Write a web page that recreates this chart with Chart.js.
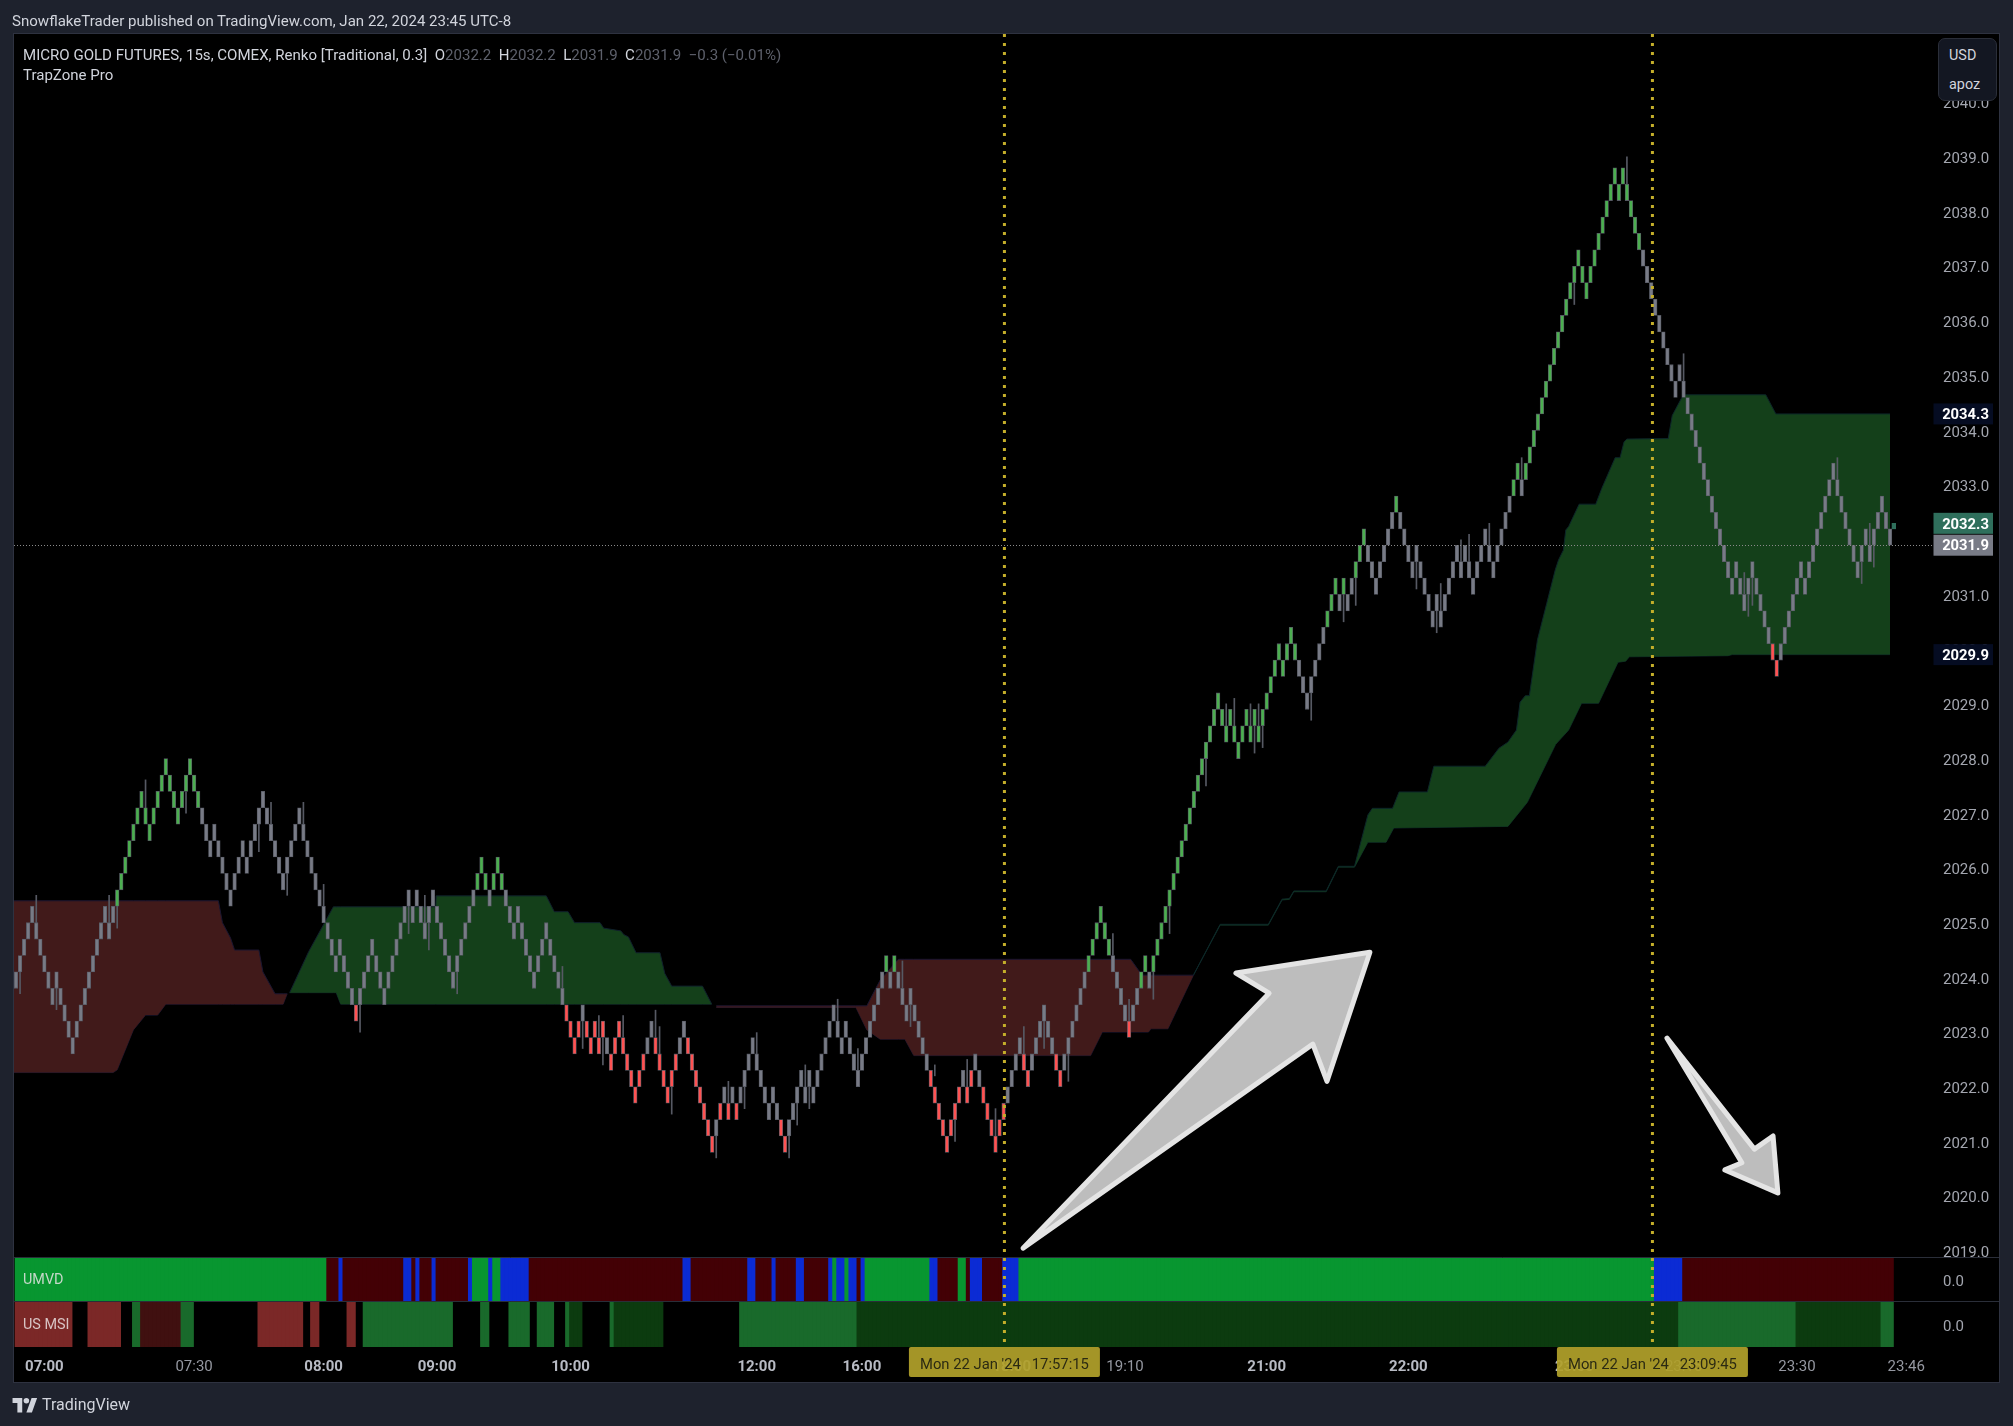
<!DOCTYPE html>
<html><head><meta charset="utf-8">
<style>
html,body{margin:0;padding:0;background:#1e222d;width:2013px;height:1426px;overflow:hidden;font-family:Roboto,sans-serif}
canvas{position:absolute;left:0;top:0}
.t{position:absolute;white-space:nowrap;line-height:18px;font-size:15.05px;color:#d1d4dc}
.dim{color:#5d606b}
#badge{position:absolute;left:1938px;top:38px;width:57px;height:61px;background:#131722;border:1px solid #2a2e39;border-radius:7px}
</style></head><body>
<canvas id="c" width="2013" height="1426"></canvas>
<div class="t" style="left:12px;top:11.5px">SnowflakeTrader published on TradingView.com, Jan 22, 2024 23:45 UTC-8</div>
<div class="t" style="left:23px;top:46px">MICRO GOLD FUTURES, 15s, COMEX, Renko [Traditional, 0.3]&nbsp;&nbsp;O<span class="dim">2032.2</span>&nbsp;&nbsp;H<span class="dim">2032.2</span>&nbsp;&nbsp;L<span class="dim">2031.9</span>&nbsp;&nbsp;C<span class="dim">2031.9</span>&nbsp;&nbsp;<span class="dim">−0.3 (−0.01%)</span></div>
<div class="t" style="left:23px;top:66px">TrapZone Pro</div>
<div id="badge"></div>
<div class="t" style="left:1949px;top:46.5px;font-size:14.4px">USD</div>
<div class="t" style="left:1949px;top:76px;font-size:14.4px">apoz</div>
<div class="t" style="left:23px;top:1271px;color:#c4d8c8;font-size:14.4px">UMVD</div>
<div class="t" style="left:23px;top:1316px;color:#d8c4c4;font-size:14.4px">US MSI</div>
<svg style="position:absolute;left:12px;top:1396px" width="26" height="18" viewBox="0 0 36 26"><path fill="#d1d4dc" d="M14 24H7V10H0V3h14v21zM28 24h-8l7.5-21h8L28 24z"/><circle fill="#d1d4dc" cx="20" cy="7" r="4"/></svg>
<div class="t" style="left:42px;top:1396px;font-size:16px">TradingView</div>
<script src="https://cdn.jsdelivr.net/npm/chart.js@4"></script>
<script>
// Renko: brick size and the level of the last close
const BRICK_SIZE = 0.3;
const BASE_PRICE = 2031.9;
// Top edge of each brick, counted in bricks below BASE_PRICE
const brickTopLevel = [
26,25,24,23,22,23,24,25,26,27, 26,27,28,29,30,29,28,27,26,25,
24,23,22,23,22,21,20,19,18,17, 16,15,16,17,16,15,14,13,14,15,
16,15,14,13,14,15,16,17,18,17, 18,19,20,21,20,19,18,19,18,17,
16,15,16,17,18,19,20,19,18,17, 16,17,18,19,20,21,22,23,24,25,
24,25,26,27,28,27,26,25,24,25, 26,27,26,25,24,23,22,21,22,21,
22,23,22,21,22,23,24,25,26,25, 24,23,22,21,20,19,20,21,20,19,
20,21,22,23,22,23,24,25,26,25, 24,23,24,25,26,27,28,29,30,29,
28,29,30,29,30,29,30,31,30,29, 30,31,32,33,32,31,30,29,30,31,
32,33,32,31,30,29,30,31,32,
33,34,35,36,35,34,33,34,33,34, 33,32,31,30,31,32,33,34,33,34,
35,36,35,34,33,32,33,32,33,32, 31,30,29,28,29,30,29,30,31,32,
31,30,29,28,27,26,25,26,25,26, 27,28,27,28,29,30,31,32,33,34,
35,36,35,34,33,32,33,32,31,32, 33,34,35,36,35,34,33,32,31,30,
31,32,31,30,29,28,29,30,31,32, 31,30,29,28,27,26,25,24,23,22,
23,24,25,26,27,28,29,28,27,26, 25,26,25,24,23,22,21,20,19,18,
17,16,15,14,
13,12,11,10,9,10,11,10,11,12, 11,10,11,10,11,10,9,8,7,6,
7,6,5,6,7,8,9,8,7,6, 5,4,3,2,3,2,3,2,1,0,
-1,0,1,2,1,0,-1,-2,-3,-2, -1,0,1,0,1,2,3,
4,3,4,3,2,1,0,1,0,1, 2,1,0,-1,0,1,0,-1,-2,-3,
-4,-5,-4,-5,-6,-7,-8,-9,-10,-11,
-12,-13,-14,-15,-16,-17,-18,-17,-16,-17, -18,-19,-20,-21,-22,-23,-22,-23,-22,-21,
-20,-19,-18,-17,-16,-15,-14,-13,-12,
-11,-10,-11,-10,-9,-8,-7,-6,-5,-4, -3,-2,-1,0,1,2,1,2,3,2,
1,2,3,4,5,6,7,6,5,4, 3,2,1,2,1,0,-1,-2,-3,-4,
-5,-4,-3,-2,-1,0,1,0,-1,0, -1,-2,-3,-2,-1];
const greenBrickRanges = [[25,45],[114,116],[118,120],[215,215],[217,217],[265,270],[278,279],[281,316],[324,326],[328,328],[331,333],[341,341],[370,371],[373,401]];
const redBrickRanges = [[84,84],[136,139],[141,145],[147,155],[158,163],[166,172],[174,174],[176,176],[178,178],[189,190],[226,233],[235,236],[239,244],[249,250],[257,258],[275,275],[434,435]];
// Wicks: bar, low, high
const wickBar  = [1,5,10,23,25,32,42,60,63,67,71,76,85,97,101,102,109,135,140,144,145,150,158,159,162,173,176,180,183,191,193,195,196,203,208,219,221,227,232,235,242,249,254,260,271,275,281,285,294,299,301,305,306,307,308,320,328,331,346,351,352,357,359,364,372,385,398,412,427,428,429,450,456,458,459];
const wickLow  = [2023.7,2025.0,2023.41,2025.0,2024.9,2027.09,2027.0,2026.3,2026.8,2025.5,2026.8,2025.3,2023.0,2024.8,2025.0,2024.5,2023.7,2023.8,2022.7,2022.9,2022.4,2022.9,2022.9,2022.6,2021.5,2020.7,2021.7,2021.6,2022.6,2020.7,2021.3,2022.0,2021.6,2023.2,2022.3,2023.8,2023.1,2022.2,2021.0,2022.0,2021.1,2022.6,2022.7,2022.1,2024.4,2023.2,2023.6,2024.8,2027.5,2028.6,2028.6,2028.6,2028.1,2028.6,2028.2,2028.7,2030.5,2030.8,2031.1,2030.3,2030.7,2031.6,2031.6,2031.9,2033.1,2036.3,2038.5,2034.9,2031.0,2030.6,2030.8,2033.1,2031.2,2031.9,2031.5];
const wickHigh = [2024.1,2025.5,2023.8,2025.5,2025.3,2027.61,2027.39,2026.8,2027.2,2025.9,2027.2,2025.7,2023.5,2025.3,2025.5,2025.0,2024.1,2024.2,2023.2,2023.3,2022.9,2023.3,2023.4,2023.1,2022.0,2021.1,2022.1,2022.0,2022.99,2021.1,2021.7,2022.4,2022.0,2023.6,2022.7,2024.3,2023.5,2022.4,2021.4,2022.5,2021.6,2023.1,2023.2,2022.6,2024.8,2023.6,2024.1,2025.3,2028.0,2029.0,2029.1,2029.0,2028.6,2029.0,2028.6,2029.2,2031.0,2031.3,2031.6,2030.7,2031.2,2032.0,2032.1,2032.3,2033.5,2036.7,2039.0,2035.4,2031.4,2031.0,2031.3,2033.5,2031.6,2032.3,2031.9];
const lastMarkerBar = 464, lastMarkerLow = 2032.2, lastMarkerHigh = 2032.3;

// TrapZone clouds
const redAX = [-0.5,24,25,29,32,35,37,50,51,53,54,60,61,64,66,67];
const redAUpper = [2025.4,2025.4,2025.4,2025.4,2025.4,2025.4,2025.4,2025.4,2025.0,2024.72,2024.5,2024.5,2024.1,2023.7,2023.7,2023.7];
const redALower = [2022.26,2022.26,2022.31,2023.04,2023.31,2023.31,2023.51,2023.51,2023.51,2023.51,2023.51,2023.51,2023.51,2023.51,2023.51,2023.7];
const greenBX = [67.6,72.3,78.4,79.1,80.2,103.7,103.8,131,133,136.4,138,144.3,145.2,149.4,150.2,151.3,153.2,159.1,160.3,162,169.6,171.9];
const greenBUpper = [2023.72,2024.47,2025.29,2025.29,2025.29,2025.29,2025.49,2025.49,2025.2,2025.2,2025.0,2025.0,2024.9,2024.85,2024.78,2024.74,2024.45,2024.45,2024.07,2023.84,2023.84,2023.51];
const greenBLower = [2023.72,2023.72,2023.72,2023.72,2023.51,2023.51,2023.51,2023.51,2023.51,2023.51,2023.51,2023.51,2023.51,2023.51,2023.51,2023.51,2023.51,2023.51,2023.51,2023.51,2023.51,2023.51];
const redCX = [173,207.5,210.2,213.5,218,219.6,221.8,265.5,268.4,275.4,278.2,279.8,280.4,284.6,290.9];
const redCUpper = [2023.48,2023.48,2023.48,2023.95,2024.33,2024.33,2024.33,2024.33,2024.33,2024.33,2024.04,2024.04,2024.04,2024.04,2024.04];
const redCLower = [2023.45,2023.45,2023.04,2022.87,2022.87,2022.87,2022.57,2022.57,2023.0,2023.0,2023.0,2023.0,2023.06,2023.06,2024.04];
const greenEUpperX = [290.9,297.5,309.4,312.8,314.6,315.7,323.7,326.7,330.7,334,335.1,340.1,341.7,348.7,350.3,363,366.4,368.6,370.7,371.6,372.9,373.9,375.9,378.2,380.3,381.1,382.3,382.9,383.6,386.2,390.3,391.8,395.1,396.3,397.3,398,408.2,409.2,411.5,412.3,432.3,434.8,463];
const greenEUpper = [2024.04,2024.97,2024.97,2025.43,2025.44,2025.58,2025.58,2026.03,2026.03,2026.97,2027.09,2027.09,2027.39,2027.39,2027.86,2027.86,2028.19,2028.3,2028.52,2029.03,2029.15,2029.15,2030.17,2030.84,2031.45,2031.63,2031.81,2032.18,2032.24,2032.65,2032.65,2032.94,2033.5,2033.5,2033.79,2033.84,2033.85,2034.27,2034.59,2034.65,2034.65,2034.3,2034.3];
const greenELowerX = [290.9,297.5,309.4,312.8,314.6,315.7,323.7,326.7,330.7,334,338.5,340.4,368.6,373.4,380.4,383.6,386.8,391,395.8,397.7,398.6,423,424,463];
const greenELower = [2024.04,2024.955,2024.955,2025.415,2025.425,2025.565,2025.565,2026.015,2026.015,2026.47,2026.47,2026.73,2026.76,2027.2,2028.26,2028.52,2029.01,2029.01,2029.76,2029.78,2029.86,2029.88,2029.9,2029.9];

// Indicator strips: state of each run and its length in bars
const umvdStates = ['g','r','b','r','b','r','b','r','b','r','b','g','b','g','b','r','b','r','b','r','b','r','b','r','b','g','b','g','b','r','b','g','b','r','g','r','b','r','b','g','b','r'];
const umvdRuns   = [77,3,1,15,2,1,1,3,1,8,1,4,1,2,7,38,2,14,2,4,1,5,2,6,1,1,2,1,2,1,1,16,2,5,2,1,3,5,4,157,7,52];
const msiStates = ['R','-','R','-','G','D','G','-','R','-','R','-','R','-','G','-','G','-','G','-','G','-','G','K','-','G','K','-','G','K','G','K','G'];
const msiRuns   = [14,4,8,3,2,10,3,16,11,2,2,7,2,2,22,7,2,5,5,2,4,3,1,3,7,1,12,19,29,203,29,21,3];

// Axes
const priceTicks = [2019,2020,2021,2022,2023,2024,2025,2026,2027,2028,2029,2030,2031,2032,2033,2034,2035,2036,2037,2038,2039,2040];
const timeTickBar = [7,44,76,104,137,183,209,246,274,309,344,385,412,440,467];
const timeTickLabel = ['07:00','07:30','08:00','09:00','10:00','12:00','16:00','18:00','19:10','21:00','22:00','23:00','23:15','23:30','23:46'];
const boldTimeLabels = ['07:00','08:00','09:00','10:00','12:00','16:00','18:00','21:00','22:00','23:00'];
// Annotations
const priceBoxValues = [2034.3,2029.9,2032.3,2031.9];
const crossBars = [244.2,404.3];
const crossLabels = ["Mon 22 Jan '24   17:57:15","Mon 22 Jan '24   23:09:45"];
const bigArrowBars = [248.8,309.6,301.4,334.5,323.9,320.4];
const bigArrowPrices = [2019.05,2023.71,2024.08,2024.46,2022.10,2022.78];
const smallArrowBars = [407.9,429.5,434.1,435.3,422.2,426.4];
const smallArrowPrices = [2022.89,2020.86,2021.10,2020.06,2020.48,2020.61];

const FONT = 'Roboto, sans-serif';
const BRICK_COLORS = {n:'#787b86', g:'#4caf50', r:'#ff5252'};
const UMVD_COLORS = {g:'#089630', r:'#430005', b:'#0b2bd4'};
const MSI_COLORS = {R:'#7b2827', D:'#401010', G:'#196a2b', K:'#0c3b0f'};

function inRanges(i, ranges){ return ranges.some(r => i>=r[0] && i<=r[1]); }
const bricks = brickTopLevel.map((d,i)=>({x:i, y:[BASE_PRICE-BRICK_SIZE*(d+1), BASE_PRICE-BRICK_SIZE*d]}));
const brickFill = brickTopLevel.map((d,i)=> inRanges(i,greenBrickRanges)?BRICK_COLORS.g : inRanges(i,redBrickRanges)?BRICK_COLORS.r : BRICK_COLORS.n);
const wicks = wickBar.map((b,i)=>({x:b, y:[wickLow[i],wickHigh[i]]}));

function strip(states, runs, palette, axis){
  const data=[], colors=[]; let n=0;
  states.forEach((s,k)=>{ for(let j=0;j<runs[k];j++,n++){ if(s!=='-'){ data.push({x:n+0.3,y:[0,1]}); colors.push(palette[s]); } } });
  return {type:'bar', data, backgroundColor:colors, borderWidth:0, barThickness:4.5, grouped:false, yAxisID:axis, xAxisID:'x', order:8};
}
const datasets = [];
function cloud(ux,uy,lx,ly,fill,edge){
  const k = datasets.length;
  datasets.push({type:'line', data:ux.map((x,i)=>({x,y:uy[i]})), borderColor:edge, borderWidth:1, pointRadius:0, tension:0, fill:{target:k+1}, backgroundColor:fill, yAxisID:'y', xAxisID:'x', order:10});
  datasets.push({type:'line', data:lx.map((x,i)=>({x,y:ly[i]})), borderColor:edge, borderWidth:1, pointRadius:0, tension:0, fill:false, yAxisID:'y', xAxisID:'x', order:10});
}
const RED='#411a1a', GREEN='#14401a';
cloud(redAX,redAUpper,redAX,redALower,RED,'#1b1630');
cloud(greenBX,greenBUpper,greenBX,greenBLower,GREEN,'#10202c');
cloud(redCX,redCUpper,redCX,redCLower,RED,'#1b1630');
cloud(greenEUpperX,greenEUpper,greenELowerX,greenELower,GREEN,'#0c2628');
datasets.push(strip(umvdStates,umvdRuns,UMVD_COLORS,'yU'));
datasets.push(strip(msiStates,msiRuns,MSI_COLORS,'yM'));
datasets.push({type:'bar', data:wicks, backgroundColor:'#565963', borderWidth:0, barThickness:1, grouped:false, yAxisID:'y', xAxisID:'x', order:5});
datasets.push({type:'bar', data:bricks, backgroundColor:brickFill, borderColor:'#565963', borderWidth:0.8, borderSkipped:false, barThickness:3.6, grouped:false, yAxisID:'y', xAxisID:'x', order:1});
datasets.push({type:'bar', data:[{x:lastMarkerBar,y:[lastMarkerLow,lastMarkerHigh]}], backgroundColor:'#2f6f5c', borderWidth:0, barThickness:4, grouped:false, yAxisID:'y', xAxisID:'x', order:1});

const paneBg = {id:'paneBg', beforeDraw(c){ const g=c.ctx; g.save(); g.fillStyle='#000'; g.fillRect(14,34,1985,1348); g.strokeStyle='#2e3240'; g.lineWidth=1; g.strokeRect(13.5,33.5,1986,1349); g.restore(); }};
const overlays = {id:'overlays',
 afterDatasetsDraw(c){
  const g=c.ctx, x=c.scales.x, y=c.scales.y; g.save();
  g.strokeStyle='#2a2e39'; g.lineWidth=1;
  [1257.5,1301.5].forEach(p=>{g.beginPath();g.moveTo(14,p);g.lineTo(1999,p);g.stroke();});
  // price crosshair
  g.strokeStyle='#8a8a8a'; g.lineWidth=1; g.setLineDash([1,2]);
  const py=Math.round(y.getPixelForValue(BASE_PRICE))+0.5;
  g.beginPath();g.moveTo(14,py);g.lineTo(1933,py);g.stroke();
  // dotted time lines
  g.strokeStyle='#c4ae2a'; g.lineWidth=3; g.setLineDash([3,6]);
  crossBars.forEach(b=>{const p=x.getPixelForValue(b);g.beginPath();g.moveTo(p,34);g.lineTo(p,1347);g.stroke();});
  g.setLineDash([]);
  // drawn arrows
  [[bigArrowBars,bigArrowPrices],[smallArrowBars,smallArrowPrices]].forEach(([bs,ps])=>{
    g.beginPath(); bs.forEach((b,i)=>{const X=x.getPixelForValue(b),Y=y.getPixelForValue(ps[i]); i?g.lineTo(X,Y):g.moveTo(X,Y);}); g.closePath();
    g.fillStyle='#bdbdbd'; g.fill(); g.strokeStyle='#e4e4e4'; g.lineWidth=5; g.lineJoin='round'; g.stroke();
  });
  g.restore();
 },
 afterDraw(c){
  const g=c.ctx, x=c.scales.x, y=c.scales.y; g.save();
  g.textBaseline='middle';
  const boxColors=['#050c22','#050c22','#2f6f5c','#787b86'];
  priceBoxValues.forEach((v,i)=>{ const p=y.getPixelForValue(v); g.fillStyle=boxColors[i]; g.fillRect(1933.5,p-10.5,59.5,21); g.fillStyle='#fff'; g.font='bold 14.8px '+FONT; g.textAlign='center'; g.fillText(v.toFixed(1),1965.5,p+1.5); });
  g.font='14.8px '+FONT;
  crossBars.forEach((b,i)=>{ const p=x.getPixelForValue(b); g.fillStyle='rgba(176,160,42,0.93)'; g.beginPath(); g.roundRect(p-95.5,1347,191,30,2); g.fill(); g.fillStyle='#2b2a12'; g.textAlign='center'; g.fillText(crossLabels[i],p,1365); });
  g.restore();
 }};

const sideGrid = {display:false, drawTicks:true, tickLength:47};
new Chart(document.getElementById('c'),{
 type:'bar', data:{datasets}, plugins:[paneBg,overlays],
 options:{
  responsive:false, animation:false, devicePixelRatio:1,
  layout:{padding:{left:14,top:34,right:14,bottom:44}},
  plugins:{legend:{display:false},tooltip:{enabled:false},title:{display:false}},
  scales:{
   x:{type:'linear',min:-0.5,max:464.48,offset:false,grid:{display:false,drawTicks:false},border:{display:false},
      afterBuildTicks:s=>{s.ticks=timeTickBar.map(v=>({value:v}));},
      afterFit:s=>{s.height=35;},
      ticks:{autoSkip:false,maxRotation:0,padding:11,
        callback:v=>timeTickLabel[timeTickBar.indexOf(v)],
        font:ctx=>({family:FONT,size:15,weight:ctx.tick&&boldTimeLabels.includes(timeTickLabel[timeTickBar.indexOf(ctx.tick.value)])?'700':'400'}),
        color:ctx=>ctx.tick&&boldTimeLabels.includes(timeTickLabel[timeTickBar.indexOf(ctx.tick.value)])?'#b8bbc4':'#9598a1'}},
   y:{type:'linear',position:'right',stack:'panes',stackWeight:1224,min:2018.87,max:2041.245,grid:sideGrid,border:{display:false},
      afterBuildTicks:s=>{s.ticks=priceTicks.map(v=>({value:v}));},
      afterFit:s=>{s.width=103;},
      ticks:{autoSkip:false,padding:0,labelOffset:2.5,crossAlign:'near',callback:v=>v.toFixed(1),font:{family:FONT,size:15},color:'#a3a6af'}},
   yU:{type:'linear',position:'right',stack:'panes',stackWeight:43.5,min:0,max:1,grid:sideGrid,border:{display:false},
      afterBuildTicks:s=>{s.ticks=[{value:0.5}];},afterFit:s=>{s.width=103;},
      ticks:{padding:0,labelOffset:2.5,crossAlign:'near',callback:()=>'0.0',font:{family:FONT,size:15},color:'#a3a6af'}},
   yM:{type:'linear',position:'right',stack:'panes',stackWeight:45.5,min:0,max:1,grid:sideGrid,border:{display:false},
      afterBuildTicks:s=>{s.ticks=[{value:0.5}];},afterFit:s=>{s.width=103;},
      ticks:{padding:0,labelOffset:2.5,crossAlign:'near',callback:()=>'0.0',font:{family:FONT,size:15},color:'#a3a6af'}}
  }
 }
});
</script>
</body></html>
